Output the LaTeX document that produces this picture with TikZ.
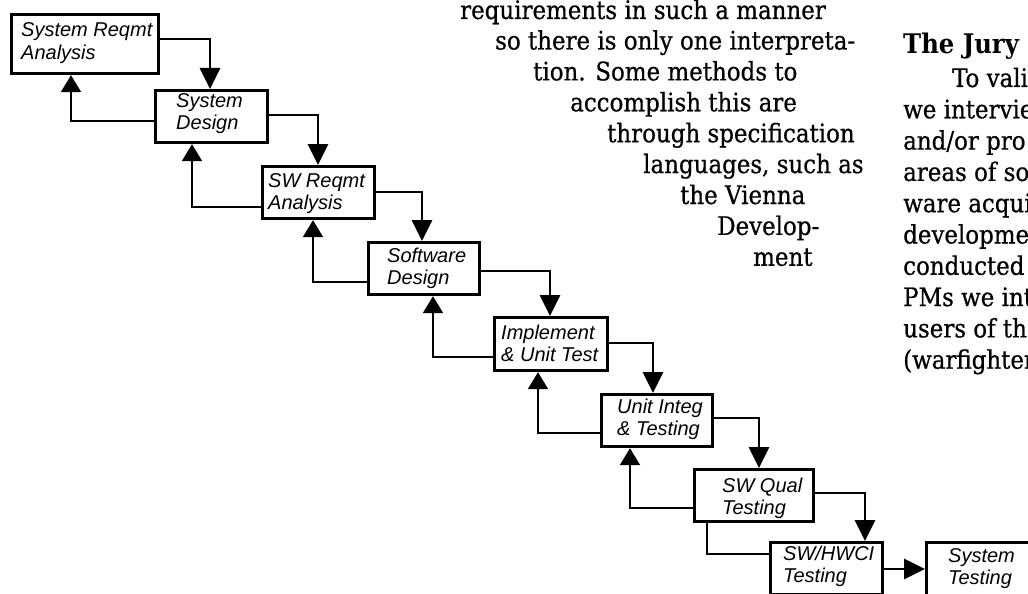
\documentclass[tikz,border=0pt]{standalone}
\usepackage{fontspec}
\setmainfont{DejaVu Serif Condensed}
\newfontfamily\prosefont[FakeBold=0.6]{DejaVu Serif Condensed}
\newfontfamily\boxfont{Liberation Sans}
\usetikzlibrary{arrows.meta,calc}
\tikzset{
  stage/.style={draw, line width=3.2pt, anchor=north west, inner sep=0pt, minimum height=52pt},
  % placed at the baseline of the second (last) line
  stagetext/.style={anchor=base west, inner sep=0pt, align=left,
    font=\boxfont\itshape\fontsize{20}{22.5}\selectfont},
  flow/.style={line width=2.8pt, -{Triangle[width=20pt,length=21pt]}},
  back/.style={line width=2.1pt, -{Triangle[width=20pt,length=17pt]}},
  backplain/.style={line width=2.1pt},
  prose/.style={anchor=base west, inner sep=0pt, font=\prosefont\fontsize{25.5}{31}\selectfont},
  heading/.style={anchor=base west, inner sep=0pt, font=\bfseries\fontsize{27}{31}\selectfont},
}
\begin{document}
\begin{tikzpicture}[x=1pt,y=-1pt]
\useasboundingbox (0,0) rectangle (1028,594);
\clip (0,0) rectangle (1028,594);

% stages of the waterfall
\node[stage, minimum width=147pt, minimum height=59pt] (b1) at (10,13) {};
\node[stage, minimum width=112pt] (b2) at (154,89) {};
\node[stage, minimum width=112pt] (b3) at (261,165) {};
\node[stage, minimum width=111pt] (b4) at (367,241) {};
\node[stage, minimum width=113pt, minimum height=53pt] (b5) at (493,316) {};
\node[stage, minimum width=111pt] (b6) at (600,393) {};
\node[stage, minimum width=119pt] (b7) at (693,468) {};
\node[stage, minimum width=112pt] (b8) at (769,541) {};
\node[stage, minimum width=130pt, minimum height=60pt] (b9) at (925,541) {};

% stage labels
\node[stagetext] (t1) at (21,59.5)   {System Reqmt\\Analysis};
\node[stagetext] (t2) at (176,129.5) {System\\Design};
\node[stagetext] (t3) at (268,209.5) {SW Reqmt\\Analysis};
\node[stagetext] (t4) at (387,284.5) {Software\\Design};
\node[stagetext] (t5) at (501,361.5) {Implement\\\& Unit Test};
\node[stagetext] (t6) at (617,435.5) {Unit Integ\\\& Testing};
\node[stagetext] (t7) at (722,514.5) {SW Qual\\Testing};
\node[stagetext] (t8) at (783,582.5) {SW/HWCI\\Testing};
\node[stagetext] (t9) at (948,584.5) {System\\Testing};

% forward flow
\draw[flow] ($(b1.north east)+(0,26)$) -| ($(b2.north west)+(56,0)$);
\draw[flow] ($(b2.north east)+(0,26)$) -| ($(b3.north west)+(57,0)$);
\draw[flow] ($(b3.north east)+(0,27)$) -| ($(b4.north west)+(55,0)$);
\draw[flow] ($(b4.north east)+(0,30)$) -| ($(b5.north west)+(57,0)$);
\draw[flow] ($(b5.north east)+(0,27)$) -| ($(b6.north west)+(53,0)$);
\draw[flow] ($(b6.north east)+(0,25)$) -| ($(b7.north west)+(66,0)$);
\draw[flow] ($(b7.north east)+(0,25)$) -| ($(b8.north west)+(96,0)$);
\draw[flow] ($(b8.north east)+(0,28)$) -- ($(b9.north west)+(0,28)$);

% feedback to the previous stage
\draw[back] ($(b2.north west)+(0,32)$) -| ($(b1.south west)+(61,0)$);
\draw[back] ($(b3.north west)+(0,42)$) -| ($(b2.south west)+(38,0)$);
\draw[back] ($(b4.north west)+(0,41)$) -| ($(b3.south west)+(52,0)$);
\draw[back] ($(b5.north west)+(0,41)$) -| ($(b4.south west)+(66,0)$);
\draw[back] ($(b6.north west)+(0,40)$) -| ($(b5.south west)+(45,0)$);
\draw[back] ($(b7.north west)+(0,40)$) -| ($(b6.south west)+(30,0)$);
\draw[backplain] ($(b8.north west)+(0,13)$) -| ($(b7.south west)+(14,0)$);

% running text, left column
\node[prose] (l0) at (460,19)    {requirements in such a manner};
\node[prose] (l1) at (495,49.5)  {so there is only one interpreta-};
\node[prose] (l2) at (533,80.4)  {tion. Some methods to};
\node[prose] (l3) at (570,111.3) {accomplish this are};
\node[prose] (l4) at (607,142.2) {through specification};
\node[prose] (l5) at (643,173.1) {languages, such as};
\node[prose] (l6) at (680,204)   {the Vienna};
\node[prose] (l7) at (717,234.9) {Develop-};
\node[prose] (l8) at (753,265.8) {ment};

% running text, right column
\node[heading] (h0) at (903,54) {The Jury};
\node[prose] (r0) at (952,87)    {To vali};
\node[prose] (r1) at (903,118.3) {we intervie};
\node[prose] (r2) at (903,149.6) {and/or pro};
\node[prose] (r3) at (903,180.9) {areas of so};
\node[prose] (r4) at (903,212.2) {ware acqui};
\node[prose] (r5) at (903,243.5) {developme};
\node[prose] (r6) at (903,274.8) {conducted};
\node[prose] (r7) at (903,306.1) {PMs we int};
\node[prose] (r8) at (903,337.4) {users of the};
\node[prose] (r9) at (903,368.7) {(warfighter};
\end{tikzpicture}
\end{document}
